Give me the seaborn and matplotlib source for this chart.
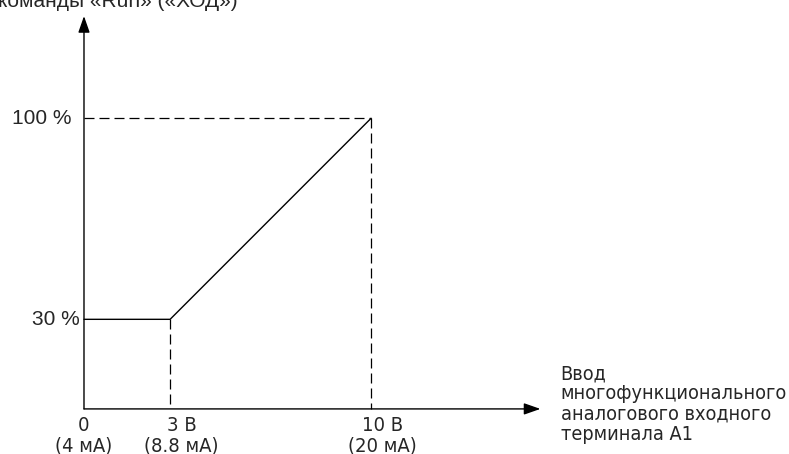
import numpy as np
import pandas as pd
import matplotlib.pyplot as plt
import seaborn as sns

# Данные характеристики
voltage = [0, 3, 10]          # В
level = [30, 30, 100]         # %
x_ticks = [0, 3, 10]
x_labels = ["0\n(4 мА)", "3 В\n(8.8 мА)", "10 В\n(20 мА)"]
y_ticks = [30, 100]
y_labels = ["30 %", "100 %"]
x_title = "Ввод\nмногофункционального\nаналогового входного\nтерминала А1"
y_title = "команды «Run» («ХОД»)"

sns.set_style("white")
plt.rcParams["font.family"] = ["Liberation Sans", "DejaVu Sans"]
narrow = dict(family=["DejaVu Sans"], stretch="condensed")

fig = plt.figure(figsize=(7.89, 4.54), dpi=100)
ax = fig.add_axes([0, 0, 1, 1])
ax.set_xlim(-2.926, 24.56)
ax.set_ylim(-16.9, 141.2)
ax.axis("off")

df = pd.DataFrame({"voltage": voltage, "level": level})
sns.lineplot(data=df, x="voltage", y="level", color="black", lw=1.0, ax=ax)

# Пунктирные линии
dash = dict(color="black", lw=0.9, ls=(0, (8, 4)))
ax.plot([0, voltage[2]], [level[2], level[2]], **dash)
ax.plot([voltage[2], voltage[2]], [level[2], -1.2], **dash)
ax.plot([voltage[1], voltage[1]], [level[1], -1.2], **dash)

# Оси со стрелками
arrow = dict(arrowstyle="-|>,head_length=1.0,head_width=0.35", color="black",
             lw=1.0, shrinkA=0, shrinkB=0)
ax.annotate("", xy=(0, 135.6), xytext=(0, -1.2), arrowprops=arrow)
ax.annotate("", xy=(15.9, -1.2), xytext=(0, -1.2), arrowprops=arrow)

for x, lab in zip(x_ticks, x_labels):
    ax.text(x + (0.4 if x else 0), -3.6, lab, ha="center", va="top",
            fontsize=14.5, linespacing=1.08, **narrow)
for y, lab in zip(y_ticks, y_labels):
    ax.text(-0.45 if y == 100 else -0.15, y, lab, ha="right", va="center",
            fontsize=15)

ax.text(16.6, 14.3, x_title, ha="left", va="top", fontsize=14.2,
        linespacing=1.07, **narrow)
fig.text(-0.002, 1 - 7 / 454, y_title, ha="left", va="baseline", fontsize=15)

fig.savefig("out.png", dpi=100)
